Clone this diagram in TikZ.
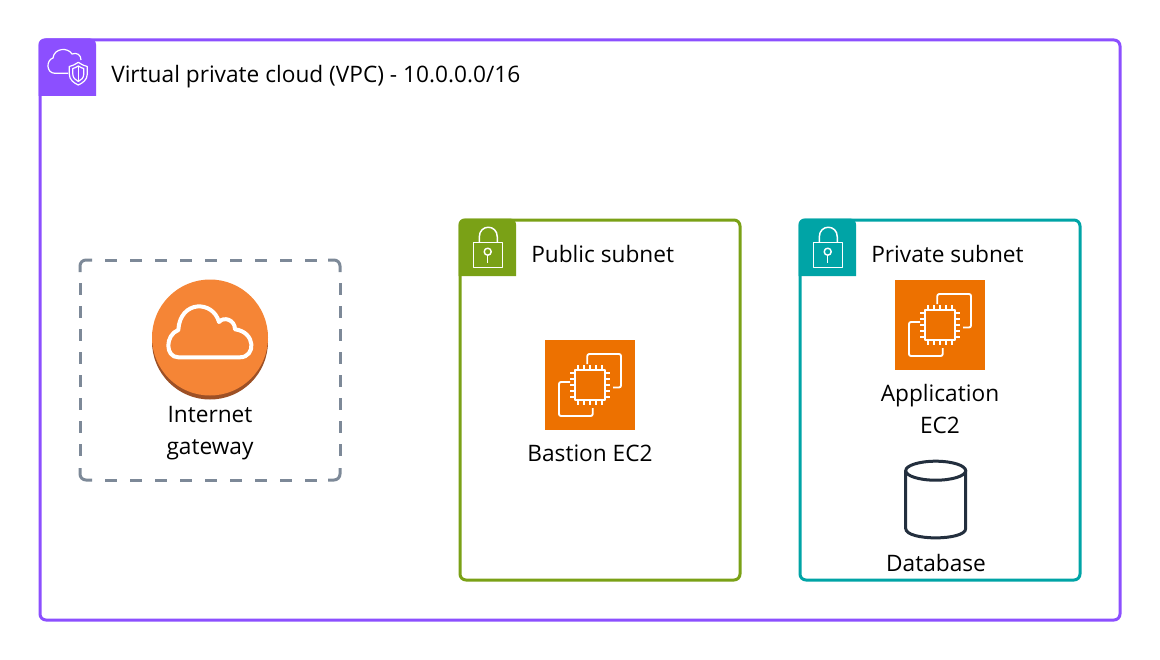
\documentclass[tikz,border=0pt]{standalone}
\usepackage{fontspec}
\setmainfont{Open Sans}
\usepackage{tikz}

\definecolor{vpcpurple}{RGB}{140,79,255}
\definecolor{publicgreen}{RGB}{122,161,22}
\definecolor{privateteal}{RGB}{0,164,166}
\definecolor{dashgray}{RGB}{125,137,152}
\definecolor{igworange}{RGB}{245,133,54}
\definecolor{igwbrown}{RGB}{157,80,37}
\definecolor{ec2orange}{RGB}{237,113,0}
\definecolor{dbnavy}{RGB}{35,47,62}

\tikzset{
	label text/.style={font=\fontsize{17}{24}\selectfont,text=black,inner sep=0pt,align=center},
	icon line/.style={draw=white,line width=1.4pt,line join=round},
	lock line/.style={draw=white,line width=1.1pt,line join=round},
	gateway edge/.style={dashgray,line width=2.25pt,rounded corners=4.5pt},
	ec2chip/.pic={
		\fill[ec2orange] (-45,-45) rectangle (45,45);
		\draw[icon line] (-15,-15) rectangle (15,15);
		\foreach \p in {-12,-6,0,6,12} {
			\draw[icon line] (\p,-15) -- (\p,-20);
			\draw[icon line] (\p,15) -- (\p,20);
			\draw[icon line] (-15,\p) -- (-20,\p);
			\draw[icon line] (15,\p) -- (20,\p);
		}
		\draw[icon line,rounded corners=1.5] (-2.7,-21) -- (-2.7,-31) -- (31,-31) -- (31,2.5) -- (23,2.5);
		\draw[icon line,rounded corners=1.5] (-20,-3) -- (-31,-3) -- (-31,31) -- (2.7,31) -- (2.7,23);
	},
	tablock/.pic={
		\draw[lock line] (13.3,22.3) rectangle (42.7,47.7);
		\draw[lock line] (19.3,22.3) -- (19.3,17) .. controls (19.3,4) and (37.3,4) .. (37.3,17) -- (37.3,22.3);
		\draw[lock line] (27.7,31.7) circle (3.5);
		\draw[lock line] (27.7,35.2) -- (27.7,43.3);
	}
}

\begin{document}
\begin{tikzpicture}[x=0.75pt,y=-0.75pt]
	\useasboundingbox (0,0) rectangle (1160,660);
	\fill[white] (0,0) rectangle (1160,660);

	%Shape: VPC box
	\draw[vpcpurple,line width=2.25pt,rounded corners=4.5pt] (40,40) rectangle (1120,620);
	\fill[vpcpurple,rounded corners=4.5pt] (38.5,96) -- (38.5,38.5) -- (96,38.5) [sharp corners] -- (96,96) -- cycle;
	%Shape: VPC cloud
	\draw[icon line,line width=0.9pt] (68,73.3) -- (55,73.3) .. controls (46,73.3) and (46,60) .. (53,58) .. controls (54,48) and (68,47) .. (72,54) .. controls (77,52) and (81,55) .. (81,60);
	%Shape: VPC shield
	\draw[icon line,line width=0.9pt] (78.3,62.3) .. controls (74,65) and (72,66) .. (69.3,66.5) -- (69.3,74) .. controls (69.3,80) and (74,83) .. (78.3,85) .. controls (82.6,83) and (87.3,80) .. (87.3,74) -- (87.3,66.5) .. controls (84.6,66) and (82.6,65) .. (78.3,62.3) -- cycle;
	\draw[icon line,line width=0.9pt] (78.3,66) .. controls (76,67.5) and (74.5,68) .. (72.8,68.5) -- (72.8,74) .. controls (72.8,78) and (75.5,80) .. (78.3,81.5) .. controls (81.1,80) and (83.8,78) .. (83.8,74) -- (83.8,68.5) .. controls (82.1,68) and (80.6,67.5) .. (78.3,66) -- cycle;
	\draw[icon line,line width=0.9pt] (78.3,66) -- (78.3,81.5);

	%Shape: Gateway box
	\draw[gateway edge] (80,272) -- (80,260) -- (92,260);
	\draw[gateway edge] (328,260) -- (340,260) -- (340,272);
	\draw[gateway edge] (340,468) -- (340,480) -- (328,480);
	\draw[gateway edge] (92,480) -- (80,480) -- (80,468);
	\foreach \y in {260,480}
		\draw[gateway edge,dash pattern=on 9pt off 9.75pt] (105,\y) -- (317,\y);
	\foreach \x in {80,340}
		\draw[gateway edge,dash pattern=on 9pt off 8.25pt] (\x,283) -- (\x,457);
	%Shape: Gateway disc
	\fill[igwbrown] (210,341.5) circle (58);
	\fill[igworange] (210,337.5) circle (58);
	%Shape: Gateway cloud
	\draw[white,line width=3pt,line join=round] (178.3,357.3) -- (240,357.3) .. controls (256,357.3) and (256,332) .. (235,329.3) .. controls (235,320) and (224,316) .. (219,322) .. controls (213,300) and (180,300) .. (178.3,330) .. controls (165,335) and (165,357.3) .. (178.3,357.3) -- cycle;

	%Shape: Public subnet
	\draw[publicgreen,line width=2.25pt,rounded corners=4.5pt] (460,220) rectangle (740,580);
	\fill[publicgreen,rounded corners=4.5pt] (458.5,276) -- (458.5,218.5) -- (516,218.5) [sharp corners] -- (516,276) -- cycle;
	\pic at (460,220) {tablock};
	\pic at (590,385) {ec2chip};

	%Shape: Private subnet
	\draw[privateteal,line width=2.25pt,rounded corners=4.5pt] (800,220) rectangle (1080,580);
	\fill[privateteal,rounded corners=4.5pt] (798.5,276) -- (798.5,218.5) -- (856,218.5) [sharp corners] -- (856,276) -- cycle;
	\pic at (800,220) {tablock};
	\pic at (940,325) {ec2chip};

	%Shape: Database
	\draw[dbnavy,line width=2.25pt] (905.7,470.7) -- (905.7,528.5) .. controls (905.7,541) and (965.7,541) .. (965.7,528.5) -- (965.7,470.7);
	\draw[dbnavy,line width=2.25pt] (935.7,470.7) ellipse (30 and 9.5);

	% Text Node
	\node[label text,anchor=west] (vpclabel) at (111,77) {Virtual private cloud (VPC) - 10.0.0.0/16};
	% Text Node
	\node[label text] (igwlabel) at (210,433) {Internet\\gateway};
	% Text Node
	\node[label text,anchor=west] (publiclabel) at (531,254) {Public subnet};
	% Text Node
	\node[label text,anchor=west] (privatelabel) at (871,254) {Private subnet};
	% Text Node
	\node[label text] (bastionlabel) at (590,453) {Bastion EC2};
	% Text Node
	\node[label text] (applabel) at (940,409) {Application\\EC2};
	% Text Node
	\node[label text] (dblabel) at (936,563) {Database};
\end{tikzpicture}
\end{document}
